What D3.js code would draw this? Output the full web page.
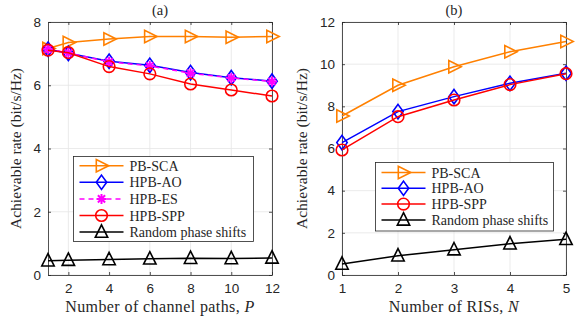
<!DOCTYPE html>
<html>
<head>
<meta charset="utf-8">
<script src="https://cdn.jsdelivr.net/npm/d3@7"></script>
<style>
  body { margin: 0; background: #fff; }
  svg { display: block; }
</style>
</head>
<body>
<script>
// ---- data ----
const pathsP = [1, 2, 4, 6, 8, 10, 12];
const aPBSCA = [7.16, 7.35, 7.46, 7.54, 7.54, 7.52, 7.54];
const aHPBAO = [7.14, 7.01, 6.76, 6.63, 6.40, 6.24, 6.13];
const aHPBES = [7.14, 7.02, 6.74, 6.61, 6.38, 6.23, 6.12];
const aHPBSPP = [7.11, 7.03, 6.59, 6.36, 6.04, 5.85, 5.66];
const aRandom = [0.45, 0.47, 0.49, 0.51, 0.53, 0.52, 0.54];

const risN = [1, 2, 3, 4, 5];
const bPBSCA = [7.54, 9.00, 9.88, 10.59, 11.08];
const bHPBAO = [6.28, 7.75, 8.46, 9.09, 9.57];
const bHPBSPP = [5.93, 7.51, 8.30, 9.03, 9.55];
const bRandom = [0.52, 0.91, 1.20, 1.48, 1.69];

const xTicksA = [2, 4, 6, 8, 10, 12];
const yTicksA = [0, 2, 4, 6, 8];
const xTicksB = [1, 2, 3, 4, 5];
const yTicksB = [0, 2, 4, 6, 8, 10, 12];

const width = 585, height = 322;
const serif = "'Liberation Serif', 'DejaVu Serif', serif";
const sans = "'Liberation Sans', Arial, sans-serif";

const styles = {
  "PB-SCA": { color: "#FF8000", marker: "tri-right", dash: null },
  "HPB-AO": { color: "#0000FF", marker: "diamond", dash: null },
  "HPB-ES": { color: "#FF00FF", marker: "asterisk", dash: "5,4" },
  "HPB-SPP": { color: "#FF0000", marker: "circle", dash: null },
  "Random phase shifts": { color: "#000000", marker: "tri-up", dash: null }
};

const svg = d3.select("body").append("svg")
  .attr("width", width)
  .attr("height", height);

svg.append("rect").attr("width", width).attr("height", height).attr("fill", "#fff");

function drawMarker(g, type, x, y, color) {
  const s = 6.2;
  if (type === "circle") {
    g.append("circle").attr("cx", x).attr("cy", y).attr("r", 5.8)
      .attr("fill", "none").attr("stroke", color).attr("stroke-width", 1.6);
  } else if (type === "diamond") {
    g.append("path").attr("d", `M${x},${y - s - 1}L${x + s - 1},${y}L${x},${y + s + 1}L${x - s + 1},${y}Z`)
      .attr("fill", "none").attr("stroke", color).attr("stroke-width", 1.6);
  } else if (type === "tri-right") {
    g.append("path").attr("d", `M${x + s + 1},${y}L${x - s + 1},${y - s}L${x - s + 1},${y + s}Z`)
      .attr("fill", "none").attr("stroke", color).attr("stroke-width", 1.6);
  } else if (type === "tri-up") {
    g.append("path").attr("d", `M${x},${y - s - 1}L${x + s},${y + s - 1}L${x - s},${y + s - 1}Z`)
      .attr("fill", "none").attr("stroke", color).attr("stroke-width", 1.6);
  } else if (type === "asterisk") {
    const r = 5;
    const d = r * 0.72;
    g.append("path")
      .attr("d", `M${x - r},${y}L${x + r},${y}M${x},${y - r}L${x},${y + r}M${x - d},${y - d}L${x + d},${y + d}M${x - d},${y + d}L${x + d},${y - d}`)
      .attr("stroke", color).attr("stroke-width", 2).attr("fill", "none");
  }
}

function panel(opt) {
  const x = d3.scaleLinear().domain(opt.xDomain).range([opt.left, opt.right]);
  const y = d3.scaleLinear().domain(opt.yDomain).range([opt.bottom, opt.top]);
  const g = svg.append("g");

  // grid
  g.append("g").selectAll("line").data(opt.xTicks).join("line")
    .attr("x1", d => x(d)).attr("x2", d => x(d))
    .attr("y1", opt.top).attr("y2", opt.bottom)
    .attr("stroke", "#e6e6e6").attr("stroke-width", 0.8);
  g.append("g").selectAll("line").data(opt.yTicks).join("line")
    .attr("x1", opt.left).attr("x2", opt.right)
    .attr("y1", d => y(d)).attr("y2", d => y(d))
    .attr("stroke", "#e6e6e6").attr("stroke-width", 0.8);

  // axes (ticks inward, box)
  const fmt = d3.format("d");
  const xAxis = g.append("g").attr("transform", `translate(0,${opt.bottom})`)
    .call(d3.axisBottom(x).tickValues(opt.xTicks).tickFormat(fmt).tickSizeInner(-3).tickSizeOuter(0).tickPadding(8));
  const xAxisTop = g.append("g").attr("transform", `translate(0,${opt.top})`)
    .call(d3.axisTop(x).tickValues(opt.xTicks).tickSizeInner(-3).tickSizeOuter(0).tickFormat(""));
  const yAxis = g.append("g").attr("transform", `translate(${opt.left},0)`)
    .call(d3.axisLeft(y).tickValues(opt.yTicks).tickFormat(fmt).tickSizeInner(-3).tickSizeOuter(0).tickPadding(7));
  const yAxisR = g.append("g").attr("transform", `translate(${opt.right},0)`)
    .call(d3.axisRight(y).tickValues(opt.yTicks).tickSizeInner(-3).tickSizeOuter(0).tickFormat(""));
  [xAxis, xAxisTop, yAxis, yAxisR].forEach(a => {
    a.select(".domain").attr("stroke", "#262626").attr("stroke-width", 0.8);
    a.selectAll(".tick line").attr("stroke", "#262626").attr("stroke-width", 0.8);
    a.selectAll("text").attr("font-family", sans).attr("font-size", 13.5).attr("fill", "#262626");
  });

  // series
  const line = d3.line().x(d => x(d[0])).y(d => y(d[1]));
  opt.series.forEach(s => {
    const st = styles[s.name];
    const pts = opt.xs.map((v, i) => [v, s.values[i]]);
    g.append("path").datum(pts).attr("d", line)
      .attr("fill", "none").attr("stroke", st.color).attr("stroke-width", 1.5)
      .attr("stroke-dasharray", st.dash);
    pts.forEach(p => drawMarker(g, st.marker, x(p[0]), y(p[1]), st.color));
  });

  // title
  g.append("text").text(opt.title)
    .attr("x", (opt.left + opt.right) / 2).attr("y", 15)
    .attr("text-anchor", "middle").attr("font-family", serif).attr("font-size", 14.5).attr("fill", "#262626");

  // x label
  const xl = g.append("text")
    .attr("x", (opt.left + opt.right) / 2).attr("y", 312)
    .attr("text-anchor", "middle").attr("font-family", serif).attr("font-size", 16)
    .attr("letter-spacing", 0.4).attr("fill", "#262626");
  xl.append("tspan").text(opt.xLabel);
  xl.append("tspan").text(opt.xVar).attr("font-style", "italic");

  // y label
  g.append("text").text("Achievable rate (bit/s/Hz)")
    .attr("transform", `translate(${opt.yLabelX},${(opt.top + opt.bottom) / 2}) rotate(-90)`)
    .attr("text-anchor", "middle").attr("font-family", serif).attr("font-size", 15.5).attr("fill", "#262626");

  // legend
  const L = opt.legend;
  g.append("rect").attr("x", L.x).attr("y", L.y).attr("width", L.w).attr("height", L.h)
    .attr("fill", "#fff").attr("stroke", "#262626").attr("stroke-width", 0.8);
  opt.series.forEach((s, i) => {
    const st = styles[s.name];
    const yy = L.y + L.first + i * L.step;
    g.append("line").attr("x1", L.x + 6).attr("x2", L.x + 50).attr("y1", yy).attr("y2", yy)
      .attr("stroke", st.color).attr("stroke-width", 1.5).attr("stroke-dasharray", st.dash);
    drawMarker(g, st.marker, L.x + 28, yy, st.color);
    g.append("text").text(s.name).attr("x", L.x + 56).attr("y", yy + 5)
      .attr("font-family", serif).attr("font-size", 14).attr("fill", "#262626");
  });
}

panel({
  left: 48, right: 272, top: 22, bottom: 275,
  xDomain: [1, 12], yDomain: [0, 8],
  xTicks: xTicksA, yTicks: yTicksA, xs: pathsP,
  title: "(a)", xLabel: "Number of channel paths, ", xVar: "P", yLabelX: 21,
  series: [
    { name: "PB-SCA", values: aPBSCA },
    { name: "HPB-AO", values: aHPBAO },
    { name: "HPB-ES", values: aHPBES },
    { name: "HPB-SPP", values: aHPBSPP },
    { name: "Random phase shifts", values: aRandom }
  ],
  legend: { x: 73.5, y: 156.5, w: 180, h: 85, first: 9.2, step: 16.6 }
});

panel({
  left: 342, right: 566, top: 22, bottom: 275,
  xDomain: [1, 5], yDomain: [0, 12],
  xTicks: xTicksB, yTicks: yTicksB, xs: risN,
  title: "(b)", xLabel: "Number of RISs, ", xVar: "N", yLabelX: 307,
  series: [
    { name: "PB-SCA", values: bPBSCA },
    { name: "HPB-AO", values: bHPBAO },
    { name: "HPB-SPP", values: bHPBSPP },
    { name: "Random phase shifts", values: bRandom }
  ],
  legend: { x: 375.5, y: 162.5, w: 178, h: 68.5, first: 10, step: 15.8 }
});
</script>
</body>
</html>
